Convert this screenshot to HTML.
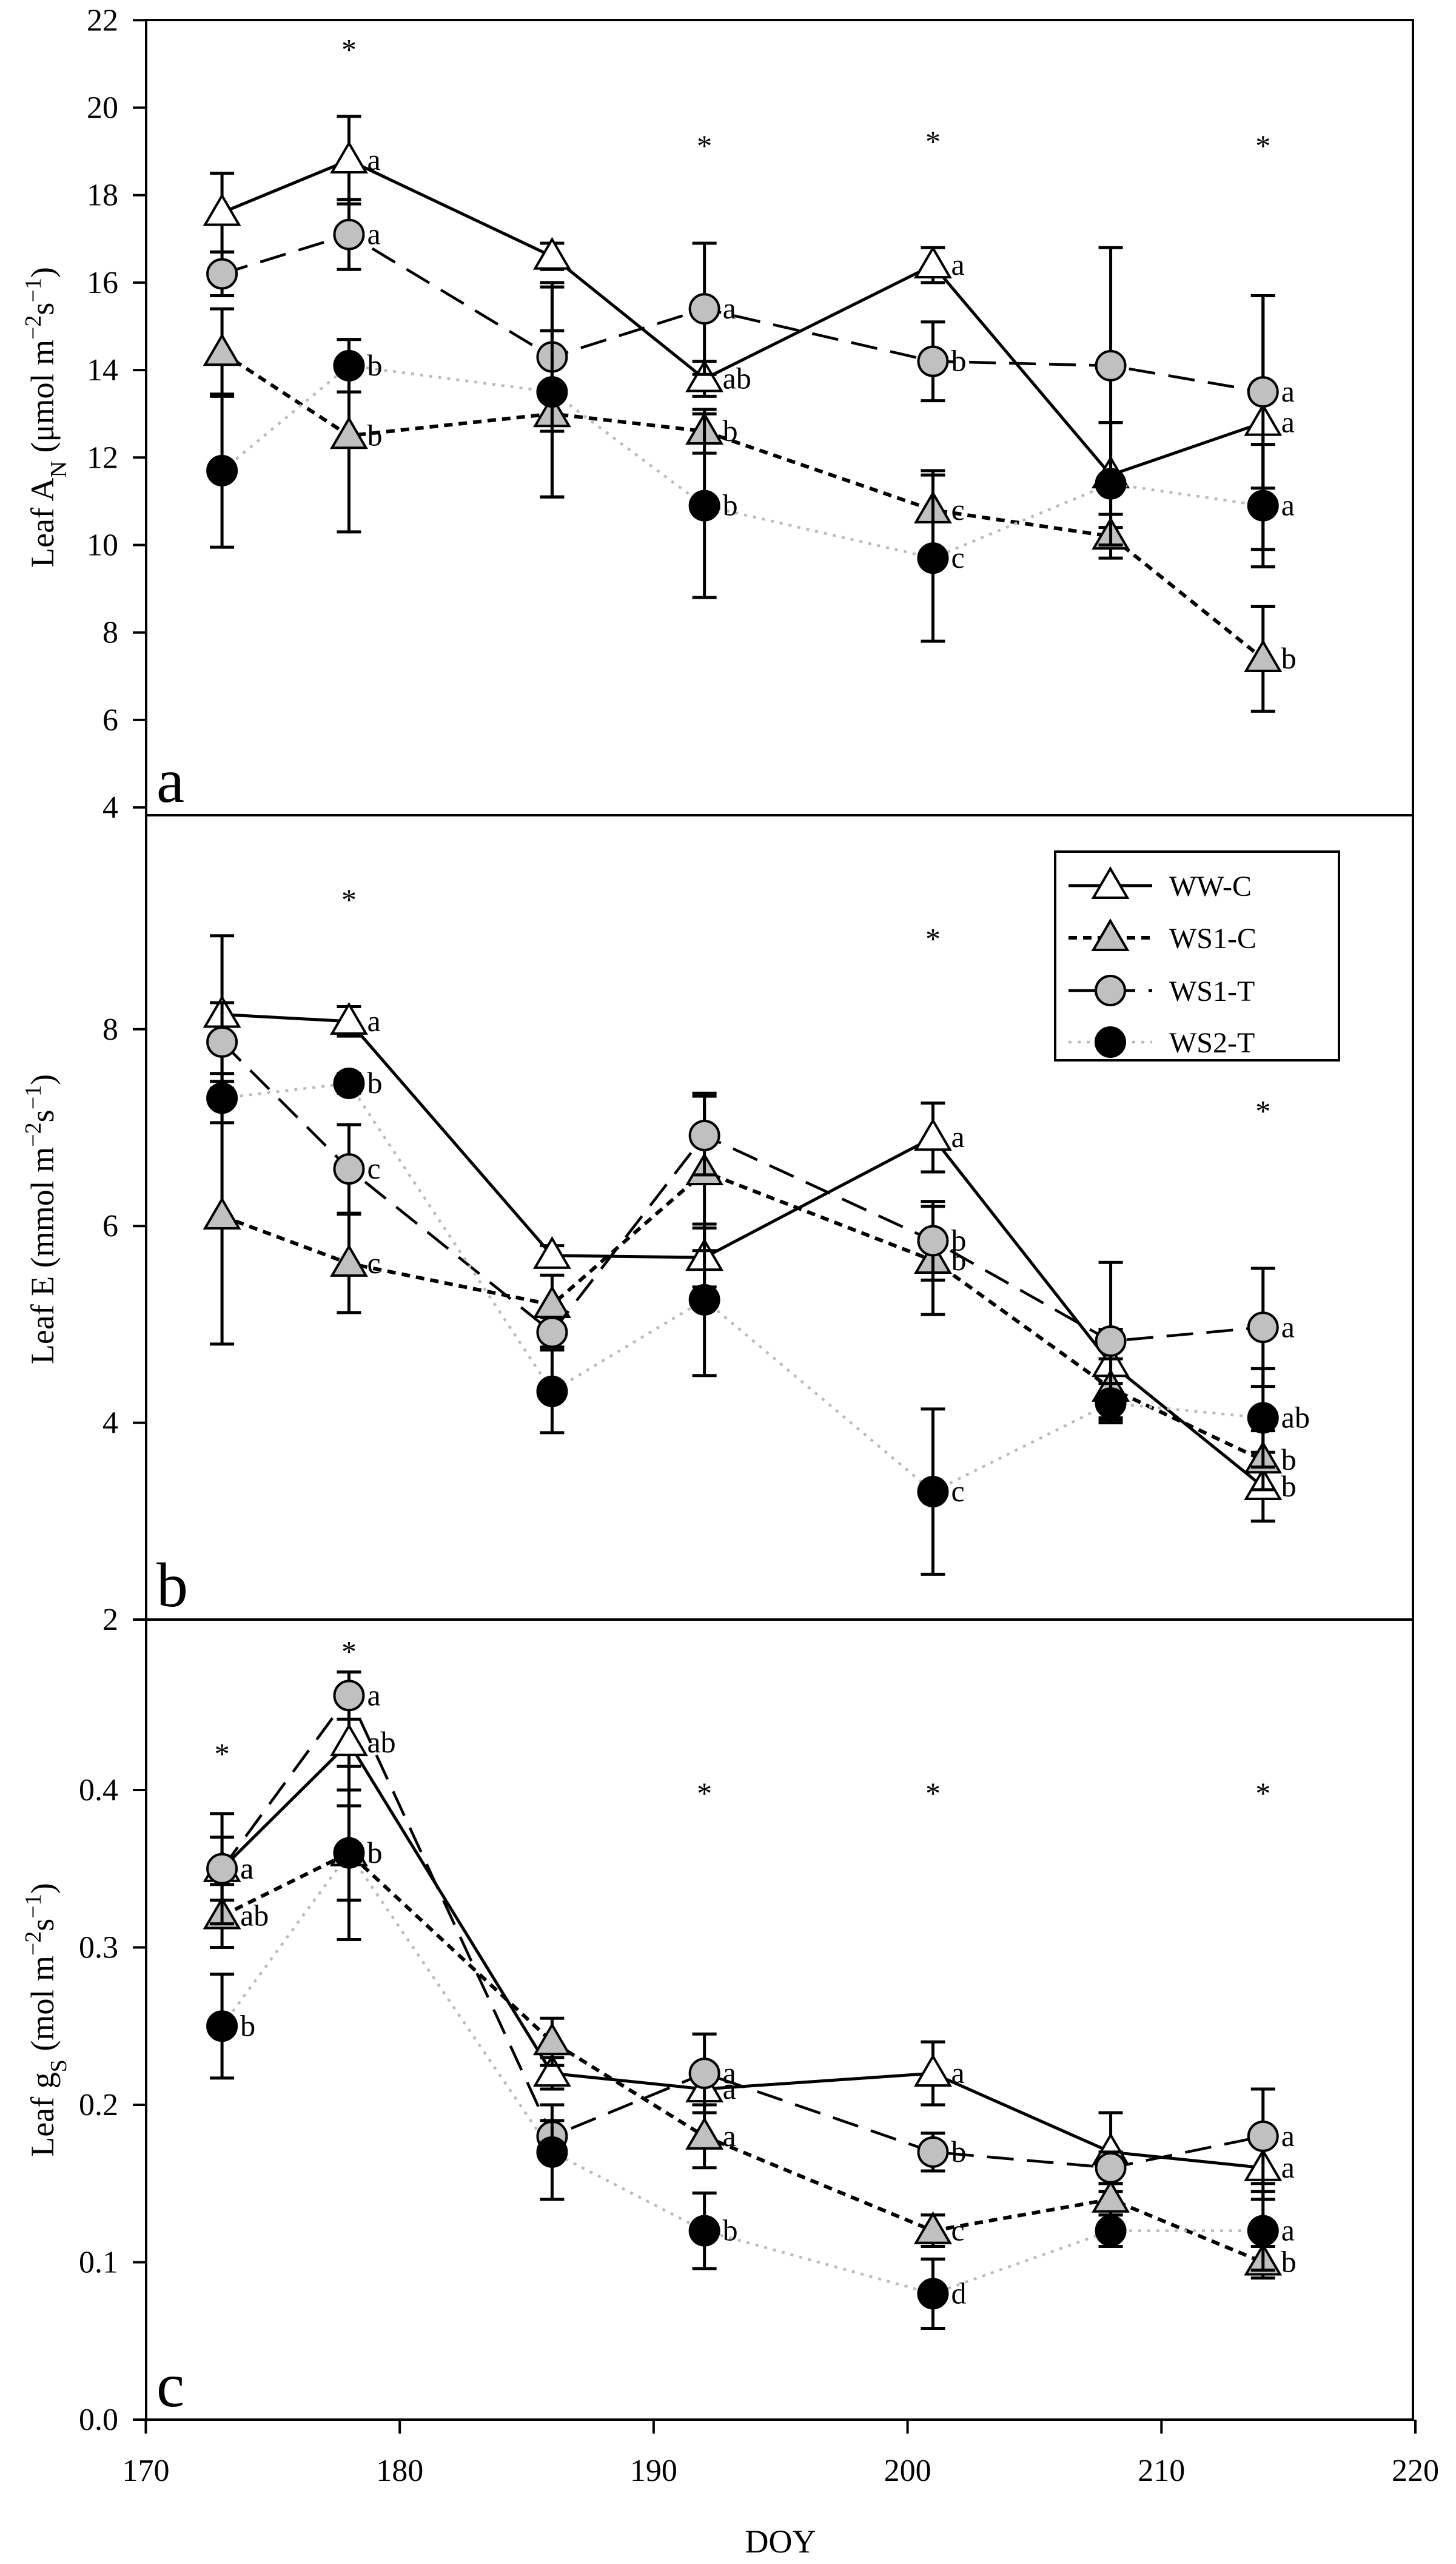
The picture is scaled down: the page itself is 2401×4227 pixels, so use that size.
<!DOCTYPE html>
<html><head><meta charset="utf-8">
<style>
html,body{margin:0;padding:0;background:#fff;}
svg{display:block;font-family:"Liberation Serif",serif;}
</style></head>
<body>
<svg id="chart" xmlns="http://www.w3.org/2000/svg" width="2401" height="4227" viewBox="0 0 2401 4227"></svg>
<script>
// ---- data ----
const doy = [173, 178, 186, 192, 201, 208, 214];
const seriesNames = ["WW-C", "WS1-C", "WS1-T", "WS2-T"];

// Panel a: Leaf AN
const anWWC   = [17.6, 18.8, 16.6, 13.8, 16.4, 11.6, 12.8];
const anWWCe  = [0.9, 1.0, 0.3, 0.4, 0.4, 1.2, 2.9];
const anWS1C  = [14.4, 12.5, 13.0, 12.6, 10.8, 10.2, 7.4];
const anWS1Ce = [1.0, 2.2, 1.9, 0.5, 0.9, 0.5, 1.2];
const anWS1T  = [16.2, 17.1, 14.3, 15.4, 14.2, 14.1, 13.5];
const anWS1Te = [0.5, 0.8, 1.7, 1.5, 0.9, 2.7, 2.2];
const anWS2T  = [11.7, 14.1, 13.5, 10.9, 9.7, 11.4, 10.9];
const anWS2Te = [1.75, 0.6, 2.4, 2.1, 1.9, 1.4, 1.4];
const anLetWWC  = ["", "a", "", "ab", "a", "", "a"];
const anLetWS1C = ["", "b", "", "b", "c", "", "b"];
const anLetWS1T = ["", "a", "", "a", "b", "", "a"];
const anLetWS2T = ["", "b", "", "b", "c", "", "a"];
const anStarDoy = [178, 192, 201, 214];
const anStarVal = [21.4, 19.2, 19.3, 19.2];
const anTicks = [4, 6, 8, 10, 12, 14, 16, 18, 20, 22];

// Panel b: Leaf E
const eWWC   = [8.15, 8.08, 5.7, 5.68, 6.9, 4.6, 3.35];
const eWWCe  = [0.8, 0.15, 0.1, 0.3, 0.35, 0.35, 0.35];
const eWS1C  = [6.1, 5.62, 5.2, 6.55, 5.65, 4.35, 3.62];
const eWS1Ce = [1.3, 0.5, 0.3, 0.8, 0.55, 0.3, 0.3];
const eWS1T  = [7.87, 6.58, 4.92, 6.92, 5.85, 4.83, 4.97];
const eWS1Te = [0.4, 0.45, 0.15, 0.4, 0.4, 0.8, 0.6];
const eWS2T  = [7.3, 7.45, 4.32, 5.25, 3.3, 4.2, 4.05];
const eWS2Te = [0.25, 0.1, 0.42, 0.77, 0.84, 0.2, 0.5];
const eLetWWC  = ["", "a", "", "", "a", "", "b"];
const eLetWS1C = ["", "c", "", "", "b", "", "b"];
const eLetWS1T = ["", "c", "", "", "b", "", "a"];
const eLetWS2T = ["", "b", "", "", "c", "", "ab"];
const eStarDoy = [178, 201, 214];
const eStarVal = [9.35, 8.95, 7.2];
const eTicks = [2, 4, 6, 8];

// Panel c: Leaf gs
const gWWC   = [0.35, 0.43, 0.22, 0.21, 0.22, 0.17, 0.16];
const gWWCe  = [0.02, 0.03, 0.01, 0.01, 0.02, 0.025, 0.02];
const gWS1C  = [0.32, 0.36, 0.24, 0.18, 0.12, 0.14, 0.10];
const gWS1Ce = [0.02, 0.03, 0.015, 0.02, 0.01, 0.01, 0.01];
const gWS1T  = [0.35, 0.46, 0.18, 0.22, 0.17, 0.16, 0.18];
const gWS1Te = [0.035, 0.015, 0.01, 0.025, 0.012, 0.01, 0.03];
const gWS2T  = [0.25, 0.36, 0.17, 0.12, 0.08, 0.12, 0.12];
const gWS2Te = [0.033, 0.055, 0.03, 0.024, 0.022, 0.01, 0.025];
const gLetWWC  = ["a", "ab", "", "a", "a", "", "a"];
const gLetWS1C = ["ab", "b", "", "a", "c", "", "b"];
const gLetWS1T = ["a", "a", "", "a", "b", "", "a"];
const gLetWS2T = ["b", "b", "", "b", "d", "", "a"];
const gStarDoy = [173, 178, 192, 201, 214];
const gStarVal = [0.425, 0.49, 0.40, 0.40, 0.40];
const gTicks = [0.0, 0.1, 0.2, 0.3, 0.4];
const xTicks = [170, 180, 190, 200, 210, 220];

// ---- layout ----
const NS = "http://www.w3.org/2000/svg";
const svg = document.getElementById("chart");
const X0 = 241, X1 = 2330;
const xs = d => 240.5 + (d - 170) * 41.87;

function el(tag, attrs, parent) {
  const e = document.createElementNS(NS, tag);
  for (const k in attrs) e.setAttribute(k, attrs[k]);
  (parent || svg).appendChild(e);
  return e;
}

const styles = {
  "WW-C":  {marker: "tri", fill: "#fff", dash: "", color: "#000", w: 5},
  "WS1-C": {marker: "tri", fill: "#c0c0c0", dash: "14,10", color: "#000", w: 6},
  "WS1-T": {marker: "circ", fill: "#c0c0c0", dash: "44,22", color: "#000", w: 4.5},
  "WS2-T": {marker: "circ", fill: "#000", dash: "5,10", color: "#bbb", w: 4.5}
};

function marker(g, type, fill, x, y) {
  if (type === "tri") {
    const m = el("polygon", {points: `${x},${y-28} ${x-28},${y+20} ${x+28},${y+20}`, fill: fill, stroke: "#000", "stroke-width": 4}, g);
    
    
  } else {
    const m = el("circle", {cx: x, cy: y, r: 24, fill: fill, stroke: "#000", "stroke-width": 4}, g);
    
    
  }
}

function panel(cfg) {
  const g = el("g", {});
  
  
  const ys = v => cfg.y0 - (v - cfg.v0) * cfg.k;
  const fr = el("rect", {x: X0, y: cfg.top, width: X1 - X0, height: cfg.bottom - cfg.top, fill: "none", stroke: "#000", "stroke-width": 4}, g);
  
  
  cfg.ticks.forEach(t => {
    const y = ys(t);
    const tk = el("line", {x1: 219, x2: X0, y1: y, y2: y, stroke: "#000", "stroke-width": 4}, g);
    
    
    const lb = el("text", {x: 195, y: y + 17, "text-anchor": "end", "font-size": 52}, g);
    lb.textContent = cfg.fmt(t);
    
    
  });
  const yl = el("text", {x: 88, y: cfg.labelY, "text-anchor": "middle", "font-size": 54, transform: `rotate(-90 88 ${cfg.labelY})`}, g);
  yl.innerHTML = cfg.label;
  
  
  const pl = el("text", {x: 258, y: cfg.bottom - 22, "font-size": 104}, g);
  pl.textContent = cfg.letter;
  
  
  cfg.series.forEach(s => {
    const st = styles[s.name];
    const sg = el("g", {}, g);
    
    
    const pts = doy.map((d, i) => `${xs(d)},${ys(s.v[i])}`).join(" ");
    const ln = el("polyline", {points: pts, fill: "none", stroke: st.color, "stroke-width": st.w, "stroke-dasharray": st.dash}, sg);
    
    
    doy.forEach((d, i) => {
      const x = xs(d), yt = ys(s.v[i] + s.e[i]), yb = ys(s.v[i] - s.e[i]);
      const eb = el("path", {d: `M${x},${yt}V${yb}M${x-20},${yt}H${x+20}M${x-20},${yb}H${x+20}`, stroke: "#000", "stroke-width": 5, fill: "none"}, sg);
      
      
    });
    doy.forEach((d, i) => marker(sg, st.marker, st.fill, xs(d), ys(s.v[i])));
    doy.forEach((d, i) => {
      if (!s.let[i]) return;
      const t = el("text", {x: xs(d) + 30, y: ys(s.v[i]) + 16, "font-size": 50}, sg);
      t.textContent = s.let[i];
      
      
    });
  });
  cfg.starDoy.forEach((d, i) => {
    const t = el("text", {x: xs(d), y: ys(cfg.starVal[i]) + 22, "text-anchor": "middle", "font-size": 50}, g);
    t.textContent = "*";
    
    
  });
}

panel({name: "panel-a-leaf-an", top: 33, bottom: 1344, y0: 33.3, v0: 22, k: 72.1, ticks: anTicks, fmt: t => String(t), letter: "a", labelY: 688,
  label: 'Leaf A<tspan baseline-shift="sub" font-size="38">N</tspan> (μmol m<tspan baseline-shift="super" font-size="38">−2</tspan>s<tspan baseline-shift="super" font-size="38">−1</tspan>)',
  series: [
    {name: "WW-C", v: anWWC, e: anWWCe, let: anLetWWC},
    {name: "WS1-C", v: anWS1C, e: anWS1Ce, let: anLetWS1C},
    {name: "WS1-T", v: anWS1T, e: anWS1Te, let: anLetWS1T},
    {name: "WS2-T", v: anWS2T, e: anWS2Te, let: anLetWS2T}],
  starDoy: anStarDoy, starVal: anStarVal});

panel({name: "panel-b-leaf-e", top: 1344, bottom: 2670, y0: 2670, v0: 2, k: 162.2, ticks: eTicks, fmt: t => String(t), letter: "b", labelY: 2010,
  label: 'Leaf E (mmol m<tspan baseline-shift="super" font-size="38">−2</tspan>s<tspan baseline-shift="super" font-size="38">−1</tspan>)',
  series: [
    {name: "WW-C", v: eWWC, e: eWWCe, let: eLetWWC},
    {name: "WS1-C", v: eWS1C, e: eWS1Ce, let: eLetWS1C},
    {name: "WS1-T", v: eWS1T, e: eWS1Te, let: eLetWS1T},
    {name: "WS2-T", v: eWS2T, e: eWS2Te, let: eLetWS2T}],
  starDoy: eStarDoy, starVal: eStarVal});

panel({name: "panel-c-leaf-gs", top: 2670, bottom: 3989, y0: 3989, v0: 0, k: 2595, ticks: gTicks, fmt: t => t.toFixed(1), letter: "c", labelY: 3330,
  label: 'Leaf g<tspan baseline-shift="sub" font-size="38">S</tspan> (mol m<tspan baseline-shift="super" font-size="38">−2</tspan>s<tspan baseline-shift="super" font-size="38">−1</tspan>)',
  series: [
    {name: "WW-C", v: gWWC, e: gWWCe, let: gLetWWC},
    {name: "WS1-C", v: gWS1C, e: gWS1Ce, let: gLetWS1C},
    {name: "WS1-T", v: gWS1T, e: gWS1Te, let: gLetWS1T},
    {name: "WS2-T", v: gWS2T, e: gWS2Te, let: gLetWS2T}],
  starDoy: gStarDoy, starVal: gStarVal});

xTicks.forEach(t => {
  const tk = el("line", {x1: xs(t), x2: xs(t), y1: 3989, y2: 4012, stroke: "#000", "stroke-width": 4});
  
  
  const lb = el("text", {x: xs(t), y: 4090, "text-anchor": "middle", "font-size": 52});
  lb.textContent = t;
  
  
});
const xt = el("text", {x: 1287, y: 4208, "text-anchor": "middle", "font-size": 54});
xt.textContent = "DOY";



const lg = el("g", {});


const lbx = el("rect", {x: 1740, y: 1404, width: 468, height: 344, fill: "#fff", stroke: "#000", "stroke-width": 4}, lg);


const legY = [1460, 1546, 1633, 1718];
seriesNames.forEach((n, i) => {
  const st = styles[n];
  const eg = el("g", {}, lg);
  
  
  el("line", {x1: 1762, x2: 1900, y1: legY[i], y2: legY[i], stroke: st.color, "stroke-width": st.w, "stroke-dasharray": st.dash}, eg);
  marker(eg, st.marker, st.fill, 1831, legY[i]);
  const t = el("text", {x: 1928, y: legY[i] + 17, "font-size": 48}, eg);
  t.textContent = n;
  
  
});
</script>
</body></html>
